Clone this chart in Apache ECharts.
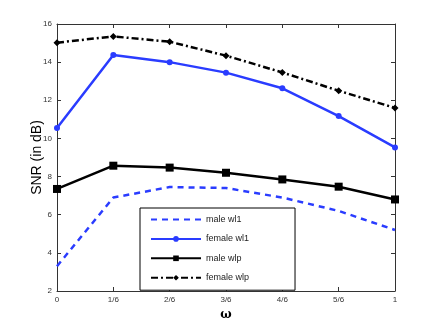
<!DOCTYPE html>
<html>
<head>
<meta charset="utf-8">
<script src="https://cdn.jsdelivr.net/npm/echarts@6/dist/echarts.min.js"></script>
<style>
html, body { margin: 0; padding: 0; background: #fff; }
#chart { width: 436px; height: 328px; }
</style>
</head>
<body>
<div id="chart"></div>
<script>
var categories = ['0', '1/6', '2/6', '3/6', '4/6', '5/6', '1'];
var yTicks = [2, 4, 6, 8, 10, 12, 14, 16];
var maleWl1 = [3.3, 6.9, 7.45, 7.4, 6.9, 6.2, 5.2];
var femaleWl1 = [10.55, 14.37, 14.0, 13.45, 12.63, 11.17, 9.53];
var maleWlp = [7.35, 8.57, 8.47, 8.2, 7.85, 7.47, 6.8];
var femaleWlp = [15.02, 15.35, 15.07, 14.34, 13.46, 12.5, 11.6];

var myChart = echarts.init(document.getElementById('chart'));
var font = '"Liberation Sans", Arial, sans-serif';

function lineSeries(name, data, color, type, symbol, size) {
    return {
        name: name,
        type: 'line',
        data: data,
        symbol: symbol,
        symbolSize: size,
        showSymbol: symbol !== 'none',
        lineStyle: { color: color, width: 2.5, type: type },
        itemStyle: { color: color },
        animation: false
    };
}

myChart.setOption({
    backgroundColor: '#fff',
    grid: { left: 57, right: 41, top: 24, bottom: 37 },
    legend: {
        orient: 'vertical',
        left: 140,
        top: 208,
        itemWidth: 50,
        itemHeight: 7,
        itemGap: 10.4,
        padding: [7, 46, 8, 10],
        borderColor: '#000',
        borderWidth: 1,
        backgroundColor: '#fff',
        textStyle: { fontFamily: font, fontSize: 9, color: '#222' },
        data: [
            { name: 'male wl1', itemStyle: { opacity: 0 } },
            'female wl1', 'male wlp', 'female wlp'
        ]
    },
    xAxis: [{
        type: 'category',
        data: categories,
        boundaryGap: false,
        name: 'ω',
        nameLocation: 'middle',
        nameGap: 18,
        nameMoveOverlap: false,
        nameTextStyle: { fontFamily: '"DejaVu Serif", serif', fontSize: 12, color: '#000', fontWeight: 'bold' },
        axisLine: { lineStyle: { color: '#333', width: 1 } },
        axisTick: { inside: true, length: 4, alignWithLabel: true, lineStyle: { color: '#333' } },
        axisLabel: { fontFamily: font, fontSize: 8, color: '#333', margin: 5 },
        splitLine: { show: false }
    }, {
        type: 'category',
        data: categories,
        boundaryGap: false,
        position: 'top',
        axisLine: { lineStyle: { color: '#333', width: 1 } },
        axisTick: { inside: true, length: 4, lineStyle: { color: '#333' } },
        axisLabel: { show: false },
        splitLine: { show: false }
    }],
    yAxis: [{
        type: 'value',
        min: yTicks[0],
        max: yTicks[yTicks.length - 1],
        interval: 2,
        name: 'SNR (in dB)',
        nameLocation: 'middle',
        nameGap: 13,
        nameMoveOverlap: false,
        nameTextStyle: { fontFamily: font, fontSize: 14, color: '#000' },
        axisLine: { show: true, lineStyle: { color: '#333', width: 1 } },
        axisTick: { show: true, inside: true, length: 4, lineStyle: { color: '#333' } },
        axisLabel: { fontFamily: font, fontSize: 8, color: '#333', margin: 5 },
        splitLine: { show: false }
    }, {
        type: 'value',
        min: yTicks[0],
        max: yTicks[yTicks.length - 1],
        interval: 2,
        position: 'right',
        axisLine: { show: true, lineStyle: { color: '#333', width: 1 } },
        axisTick: { show: true, inside: true, length: 4, lineStyle: { color: '#333' } },
        axisLabel: { show: false },
        splitLine: { show: false }
    }],
    series: [
        lineSeries('male wl1', maleWl1, '#2a3cff', [6, 5], 'none', 0),
        lineSeries('female wl1', femaleWl1, '#2a3cff', 'solid', 'circle', 6),
        lineSeries('male wlp', maleWlp, '#000', 'solid', 'rect', 8),
        lineSeries('female wlp', femaleWlp, '#000', [7, 3, 2, 3], 'diamond', 7)
    ]
});
</script>
</body>
</html>
